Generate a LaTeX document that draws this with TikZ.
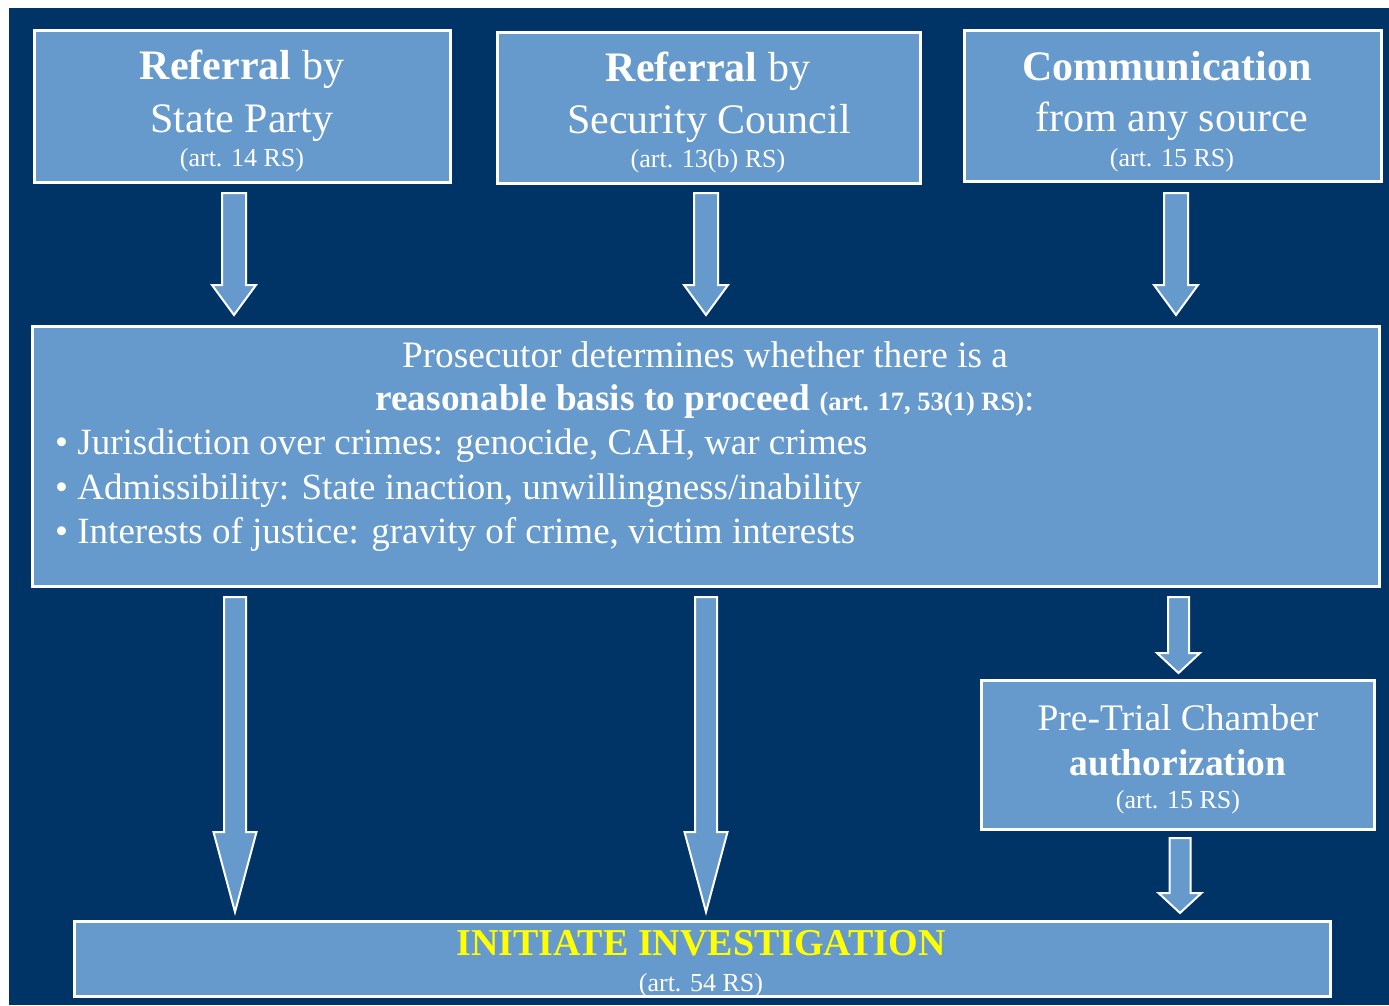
\documentclass[tikz,border=0pt]{standalone}
\usepackage{fontspec}
\setmainfont{Liberation Serif}
\usetikzlibrary{calc}
\definecolor{navy}{RGB}{0,51,102}
\definecolor{boxblue}{RGB}{102,153,204}
\definecolor{ylw}{RGB}{255,255,0}
\newcommand{\fsz}[1]{\fontsize{#1}{#1}\selectfont}
\begin{document}
\begin{tikzpicture}[x=1pt,y=-1pt,
  box/.style={draw=white, line width=3pt, fill=boxblue, inner sep=0pt, rectangle},
  txt/.style={text=white, inner sep=0pt, anchor=base},
  txtl/.style={text=white, inner sep=0pt, anchor=base west},
  barrow/.style n args={3}{draw=white, line width=2pt, fill=boxblue, line join=miter,
    to path={let \p1=(\tikztostart), \p2=(\tikztotarget) in
      ({\x1-#1},\y1) -- ({\x1+#1},\y1) -- ({\x1+#1},{\y2+#3}) -- ({\x1+#2},{\y2+#3})
      -- (\x2,\y2) -- ({\x1-#2},{\y2+#3}) -- ({\x1-#1},{\y2+#3}) -- cycle}}
]
\useasboundingbox (0,0) rectangle (1389,1005);
\fill[white] (0,0) rectangle (1389,1005);
\fill[navy] (9,8) rectangle (1389,1005);

% boxes
\node[box, minimum width=416pt, minimum height=152pt] (b1) at (242,106) {};
\node[box, minimum width=423pt, minimum height=151pt] (b2) at (708.5,107.5) {};
\node[box, minimum width=417pt, minimum height=151pt] (b3) at (1172.5,105.5) {};
\node[box, minimum width=1347pt, minimum height=260pt] (big) at (705.5,456) {};
\node[box, minimum width=393pt, minimum height=149pt] (ptc) at (1177.5,754.5) {};
\node[box, minimum width=1256pt, minimum height=75pt] (bot) at (702,958.5) {};

% texts box 1
\node[txt] (t1a) at (242,79) {\fsz{42}\textbf{Referral} by};
\node[txt] (t1b) at (242,132) {\fsz{42}State Party};
\node[txt] (t1c) at (242,166) {\fsz{26}(art. 14 RS)};
% box 2
\node[txt] (t2a) at (708,81) {\fsz{42}\textbf{Referral} by};
\node[txt] (t2b) at (709,133) {\fsz{42}Security Council};
\node[txt] (t2c) at (708,167) {\fsz{26}(art. 13(b) RS)};
% box 3
\node[txt] (t3a) at (1167,80) {\fsz{42}\textbf{Communication}};
\node[txt] (t3b) at (1172,131) {\fsz{42}from any source};
\node[txt] (t3c) at (1172,166) {\fsz{26}(art. 15 RS)};
% big box
\node[txt] (p1) at (705,367) {\fsz{37.3}Prosecutor determines whether there is a};
\node[txt] (p2) at (705,410) {\fsz{37.3}\textbf{reasonable basis to proceed} {\fsz{26.5}\textbf{(art. 17, 53(1) RS)}}:};
\node[txtl] (p3) at (55,454) {\fsz{37}• Jurisdiction over crimes: genocide, CAH, war crimes};
\node[txtl] (p4) at (55,499) {\fsz{37}• Admissibility: State inaction, unwillingness/inability};
\node[txtl] (p5) at (55,543) {\fsz{37}• Interests of justice: gravity of crime, victim interests};
% PTC
\node[txt] (q1) at (1178,730) {\fsz{37.5}Pre-Trial Chamber};
\node[txt] (q2) at (1178,775) {\fsz{37.5}\textbf{authorization}};
\node[txt] (q3) at (1178,808) {\fsz{26}(art. 15 RS)};
% bottom
\node[txt, text=ylw] (r1) at (701,955) {\fsz{38}\textbf{INITIATE INVESTIGATION}};
\node[txt] (r2) at (701,991) {\fsz{26}(art. 54 RS)};

% arrow endpoints
\coordinate (a1s) at (234,193); \coordinate (a1e) at (234,315);
\coordinate (a2s) at (706,193); \coordinate (a2e) at (706,315);
\coordinate (a3s) at (1176,193); \coordinate (a3e) at (1176,315);
\coordinate (a4s) at (235,597); \coordinate (a4e) at (235,912);
\coordinate (a5s) at (706,597); \coordinate (a5e) at (706,912);
\coordinate (a6s) at (1178.5,597); \coordinate (a6e) at (1178.5,673);
\coordinate (a7s) at (1180,838); \coordinate (a7e) at (1180,913);

\draw[barrow={12pt}{22pt}{30pt}] (a1s) to (a1e);
\draw[barrow={12pt}{22pt}{30pt}] (a2s) to (a2e);
\draw[barrow={12pt}{22pt}{30pt}] (a3s) to (a3e);
\draw[barrow={11pt}{21.5pt}{80pt}] (a4s) to (a4e);
\draw[barrow={11pt}{21.5pt}{80pt}] (a5s) to (a5e);
\draw[barrow={10.5pt}{21.5pt}{20pt}] (a6s) to (a6e);
\draw[barrow={10.5pt}{21.5pt}{20pt}] (a7s) to (a7e);
\end{tikzpicture}
\end{document}
